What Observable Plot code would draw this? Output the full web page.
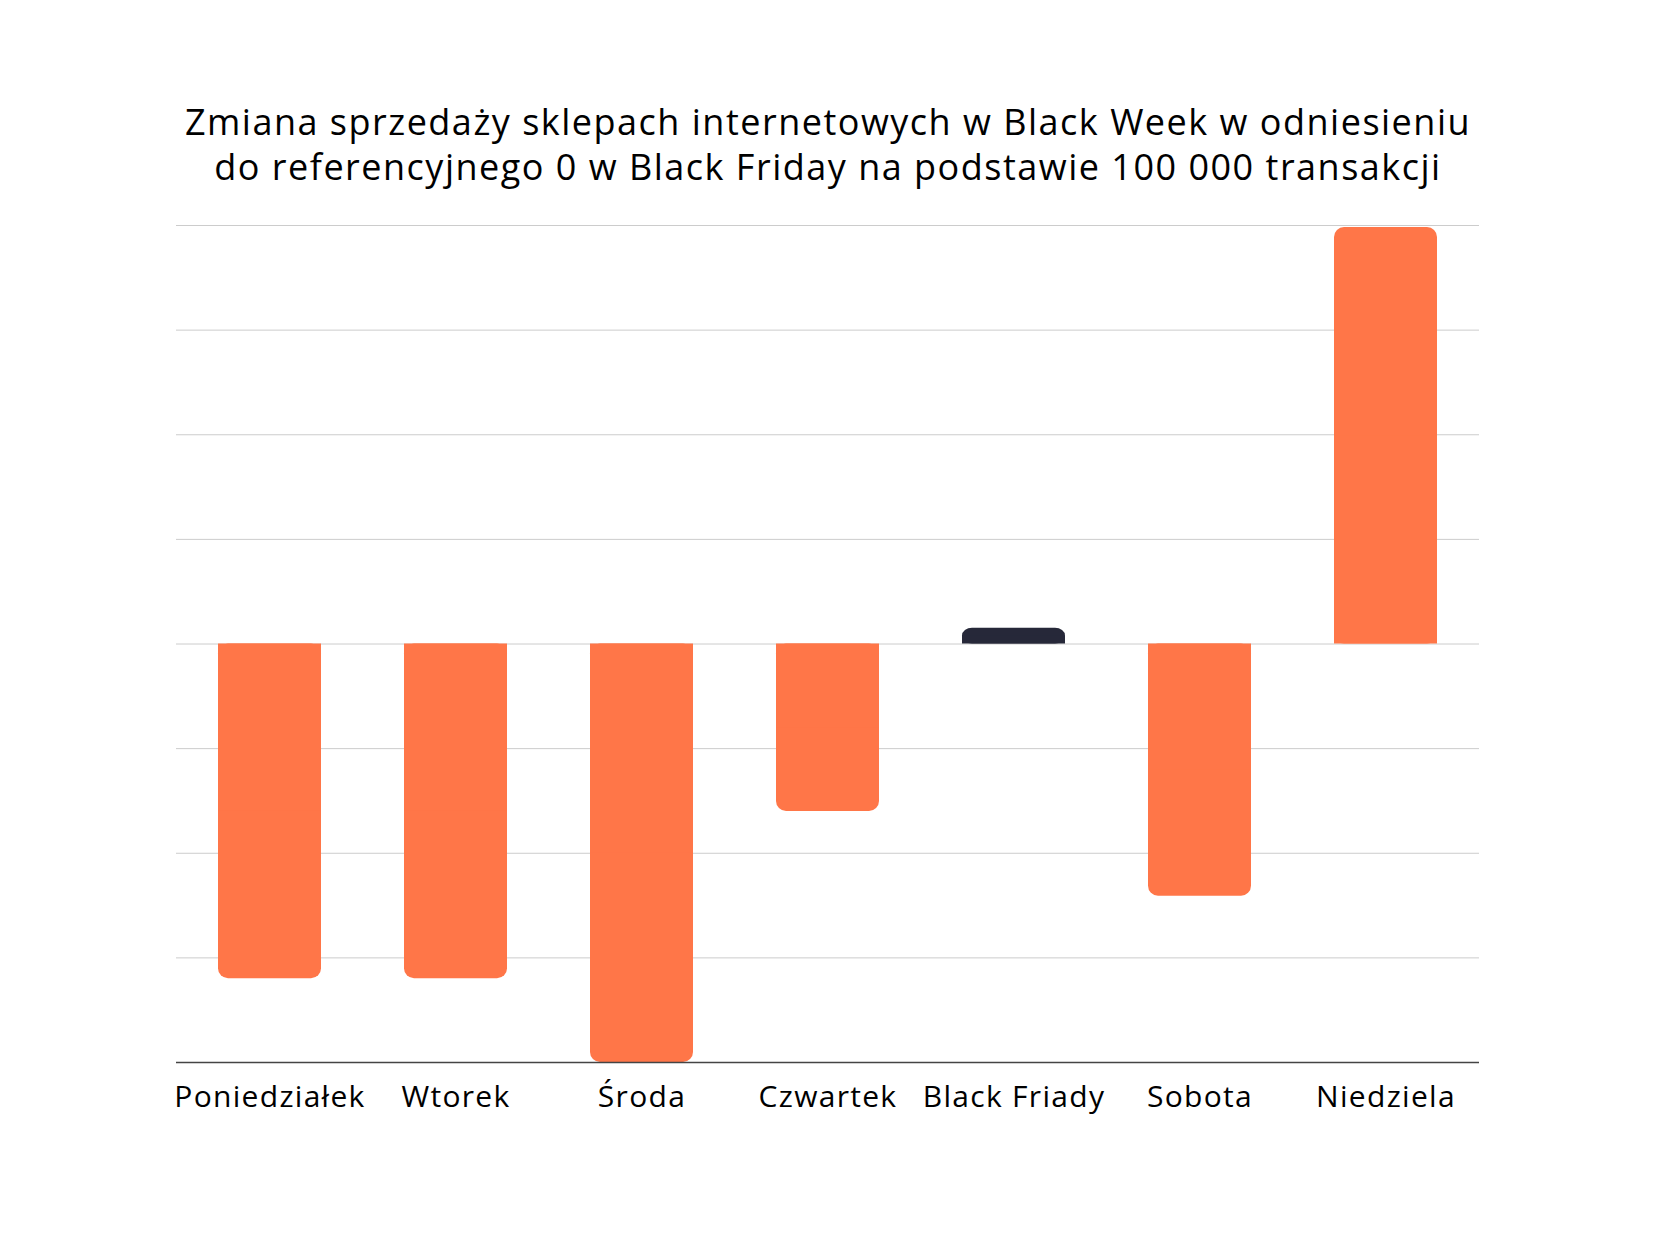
<!DOCTYPE html>
<html>
<head>
<meta charset="utf-8">
<script src="https://cdn.jsdelivr.net/npm/d3@7"></script>
<script src="https://cdn.jsdelivr.net/npm/@observablehq/plot@0.6"></script>
<style>
  html, body { margin: 0; padding: 0; background: #fff; }
  #title {
    width: 1659px; height: 200px; box-sizing: border-box;
    padding-top: 99px;
    font-family: "Open Sans", sans-serif; font-weight: 500;
    font-size: 36px; line-height: 45px; letter-spacing: 1.5px; color: #000; text-align: center;
  }
  #title div { width: 1400px; margin-left: 128px; text-align: center; }
</style>
</head>
<body>
<div id="title"><div>Zmiana sprzedaży sklepach internetowych w Black Week w odniesieniu<br>do referencyjnego 0 w Black Friday na podstawie 100 000 transakcji</div></div>
<div id="chart"></div>
<script>
const days = ["Poniedziałek", "Wtorek", "Środa", "Czwartek", "Black Friady", "Sobota", "Niedziela"];
const values = [-32, -32, -40, -16, 1.5, -24.1, 39.8];
const highlight = [false, false, false, false, true, false, false];
const gridTicks = [-30, -20, -10, 0, 10, 20, 30, 40];
const baseTick = [-40];

const orange = "#FF7648";
const dark = "#262839";

const data = days.map((d, i) => ({day: d, value: values[i], hi: highlight[i]}));

const chart = Plot.plot({
  width: 1659,
  height: 1047,
  marginTop: 25,
  marginBottom: 185,
  marginLeft: 176,
  marginRight: 180,
  style: {fontFamily: "Open Sans, sans-serif", fontSize: "30px", color: "#000", background: "#fff", letterSpacing: "1.3px"},
  x: {domain: days, paddingInner: 0.447, paddingOuter: 0.2225, label: null},
  y: {domain: [-40, 40], axis: null},
  marks: [
    Plot.ruleY(gridTicks, {stroke: "#cccccc", strokeWidth: 1}),
    Plot.barY(data, {x: "day", y: "value", fill: d => d.hi ? dark : orange, rx: 10}),
    Plot.barY(data, {x: "day", y1: 0, y2: d => d.value / 2, fill: d => d.hi ? dark : orange}),
    Plot.ruleY(baseTick, {stroke: "#444", strokeWidth: 1.5}),
    Plot.axisX({tickSize: 0, tickPadding: 23, fontSize: 30, fontWeight: 500, fill: "#000", label: null})
  ]
});
document.getElementById("chart").appendChild(chart);
</script>
</body>
</html>
